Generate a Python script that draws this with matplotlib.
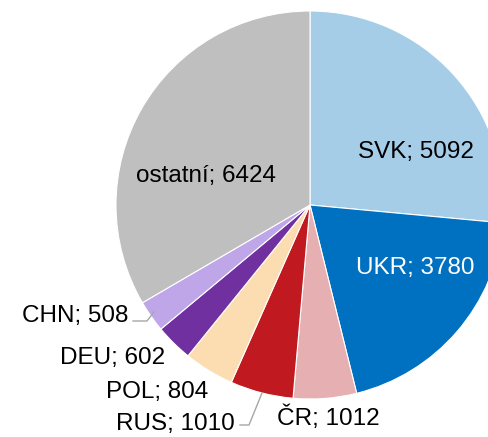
import matplotlib
matplotlib.use("Agg")
import matplotlib.pyplot as plt

# data
zeme = ["SVK", "UKR", "ČR", "RUS", "POL", "DEU", "CHN", "ostatní"]
hodnoty = [5092, 3780, 1012, 1010, 804, 602, 508, 6424]
barvy = ["#A6CDE7", "#0070C0", "#E6AFB1", "#C0191F", "#FCDDB1", "#7030A0", "#BEA6E8", "#BFBFBF"]
barva_textu = ["black", "white", "black", "black", "black", "black", "black", "black"]

# label positions in pixels (x, y from top) and alignment
pozice = [(416, 152), (415, 268), (328, 418), (175, 424), (157, 392), (113, 358), (128, 316), (206, 176)]
zarovnani = ["center", "center", "center", "center", "center", "center", "right", "center"]

W, H = 488, 437
plt.rcParams['font.family'] = ['Liberation Sans', 'DejaVu Sans']

fig = plt.figure(figsize=(W / 100, H / 100), dpi=100)
ax = fig.add_axes([0, 0, 1, 1])

# pie centred in pixel coordinates, right side runs off the figure
ax.pie(hodnoty, colors=barvy, startangle=90, counterclock=False,
       center=(310, H - 205), radius=194,
       wedgeprops=dict(edgecolor="white", linewidth=0.8), frame=True)
ax.set_xlim(0, W)
ax.set_ylim(0, H)
ax.set_aspect("equal")
ax.axis("off")

for z, v, (x, y), ha, c in zip(zeme, hodnoty, pozice, zarovnani, barva_textu):
    ax.text(x, H - y, f"{z}; {v}", ha=ha, va="center", fontsize=17.5, color=c)

# leader lines
ax.plot([133, 147, 154], [H - 321, H - 321, H - 312], color="#A6A6A6", lw=1)
ax.plot([240, 249, 262], [H - 425, H - 425, H - 393], color="#A6A6A6", lw=1)

fig.savefig("out.png", dpi=100)
